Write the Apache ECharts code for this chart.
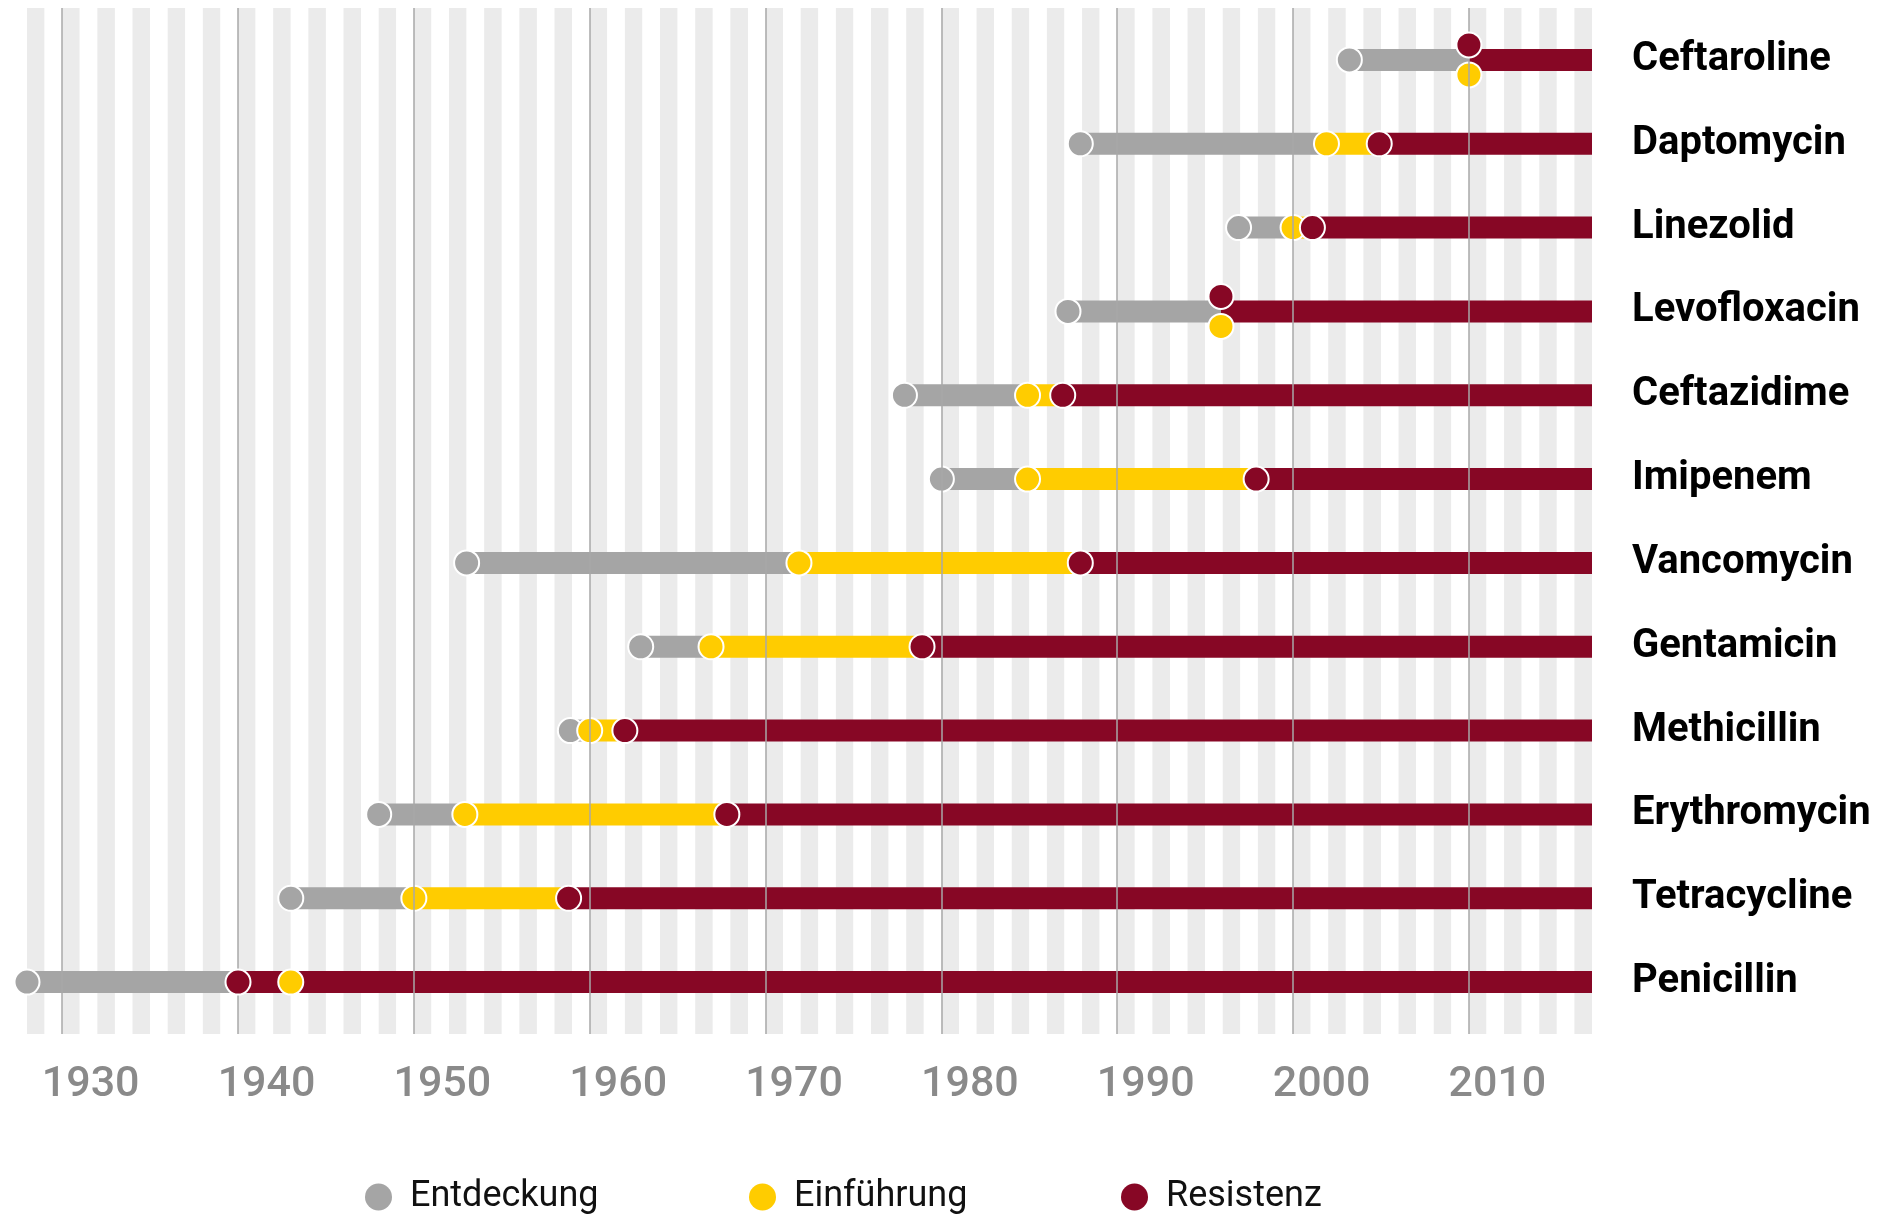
<!DOCTYPE html>
<html>
<head>
<meta charset="utf-8">
<script src="https://cdn.jsdelivr.net/npm/echarts@6/dist/echarts.min.js"></script>
<style>
html,body{margin:0;padding:0;background:#ffffff;}
#chart{width:1890px;height:1221px;}
</style>
</head>
<body>
<div id="chart"></div>
<script>
// ---- data (bottom row first) ----
const drugs = ['Penicillin','Tetracycline','Erythromycin','Methicillin','Gentamicin','Vancomycin','Imipenem','Ceftazidime','Levofloxacin','Linezolid','Daptomycin','Ceftaroline'];
const discovery    = [1928.0, 1943.0, 1948.0, 1958.9, 1962.9, 1953.0, 1980.0, 1977.9, 1987.2, 1996.9, 1987.9, 2003.2];
const introduction = [1943.0, 1950.0, 1952.9, 1960.0, 1966.9, 1971.9, 1984.9, 1984.9, 1995.9, 2000.0, 2001.9, 2010.0];
const resistance   = [1940.0, 1958.8, 1967.8, 1962.0, 1978.9, 1987.9, 1997.9, 1986.9, 1995.9, 2001.1, 2004.9, 2010.0];
const yearMin = 1928;
const yearMax = 2017;
const decades = [1930, 1940, 1950, 1960, 1970, 1980, 1990, 2000, 2010];
const legendNames = ['Entdeckung', 'Einführung', 'Resistenz'];

// ---- styles ----
const GRAY = '#a5a5a5', YELLOW = '#ffcc00', RED = '#870725';
const FONT = 'Roboto, "Liberation Sans", sans-serif';

const grayLen   = drugs.map((d, i) => Math.min(introduction[i], resistance[i]) - discovery[i]);
const yellowLen = drugs.map((d, i) => Math.max(0, resistance[i] - introduction[i]));
const redLen    = drugs.map((d, i) => yearMax - resistance[i]);

const discPts  = drugs.map((d, i) => [discovery[i], d]);
const introPts = drugs.map((d, i) => introduction[i] === resistance[i]
  ? { value: [introduction[i], d], symbolOffset: [0, 15] }
  : { value: [introduction[i], d] });
const resPts   = drugs.map((d, i) => introduction[i] === resistance[i]
  ? { value: [resistance[i], d], symbolOffset: [0, -15] }
  : { value: [resistance[i], d] });

const chart = echarts.init(document.getElementById('chart'), null, { renderer: 'canvas' });

function legendAt(name, left) {
  return {
    data: [name], left: left, top: 1179, orient: 'horizontal', padding: 0,
    icon: 'circle', itemWidth: 27, itemHeight: 27, selectedMode: false,
    itemStyle: { borderWidth: 0 },
    textStyle: { fontFamily: FONT, fontSize: 36, color: '#111111', padding: [0, 0, 0, 13] }
  };
}

const scatterCommon = {
  type: 'scatter', xAxisIndex: 1, yAxisIndex: 1, symbol: 'circle', symbolSize: 25,
  silent: true
};

chart.setOption({
  animation: false,
  backgroundColor: '#ffffff',
  grid: [
    { left: 27, right: 298, top: 8, bottom: 187, containLabel: false, outerBoundsMode: 'none' },
    { left: 27, right: 298, top: 18, bottom: 197, containLabel: false, outerBoundsMode: 'none' }
  ],
  legend: [
    legendAt(legendNames[0], 365),
    legendAt(legendNames[1], 749),
    legendAt(legendNames[2], 1121)
  ],
  xAxis: [
    {
      gridIndex: 0, type: 'value', min: yearMin, max: yearMax, interval: 1,
      axisLine: { show: false }, axisTick: { show: false },
      splitLine: { show: false },
      splitArea: { show: true, areaStyle: { color: ['#ebebeb', '#ffffff'] } },
      axisLabel: {
        formatter: v => decades.indexOf(v) >= 0 ? String(v) : '',
        margin: 30, padding: [0, 0, 0, 57],
        fontFamily: FONT, fontSize: 43, fontWeight: 500, color: '#8a8a8a', lineHeight: 43
      }
    },
    { gridIndex: 1, type: 'value', min: yearMin, max: yearMax, show: false }
  ],
  yAxis: [
    { gridIndex: 0, type: 'value', min: 0, max: 1, show: false },
    {
      gridIndex: 1, type: 'category', data: drugs, position: 'right',
      axisLine: { show: false }, axisTick: { show: false }, splitLine: { show: false },
      axisLabel: { margin: 40, fontFamily: FONT, fontSize: 40, fontWeight: 'bold', color: '#000000' }
    }
  ],
  series: [
    {
      type: 'line', xAxisIndex: 0, yAxisIndex: 0, data: [], z: 1, silent: true,
      markLine: {
        silent: true, symbol: ['none', 'none'], label: { show: false },
        lineStyle: { color: '#a8a8a8', width: 1.5, type: 'solid' },
        data: decades.map(d => ({ xAxis: d }))
      }
    },
    { type: 'bar', xAxisIndex: 1, yAxisIndex: 1, stack: 'seg', data: discovery, barWidth: 22,
      itemStyle: { color: 'rgba(0,0,0,0)' }, silent: true, z: 2 },
    { type: 'bar', xAxisIndex: 1, yAxisIndex: 1, stack: 'seg', data: grayLen, barWidth: 22,
      itemStyle: { color: GRAY }, silent: true, z: 2 },
    { type: 'bar', xAxisIndex: 1, yAxisIndex: 1, stack: 'seg', data: yellowLen, barWidth: 22,
      itemStyle: { color: YELLOW }, silent: true, z: 2 },
    { type: 'bar', xAxisIndex: 1, yAxisIndex: 1, stack: 'seg', data: redLen, barWidth: 22,
      itemStyle: { color: RED }, silent: true, z: 2 },
    Object.assign({}, scatterCommon, { name: legendNames[0], data: discPts, z: 3,
      itemStyle: { color: GRAY, borderColor: '#ffffff', borderWidth: 2, opacity: 1 } }),
    Object.assign({}, scatterCommon, { name: legendNames[1], data: introPts, z: 4,
      itemStyle: { color: YELLOW, borderColor: '#ffffff', borderWidth: 2, opacity: 1 } }),
    Object.assign({}, scatterCommon, { name: legendNames[2], data: resPts, z: 5,
      itemStyle: { color: RED, borderColor: '#ffffff', borderWidth: 2, opacity: 1 } })
  ]
});
</script>
</body>
</html>
